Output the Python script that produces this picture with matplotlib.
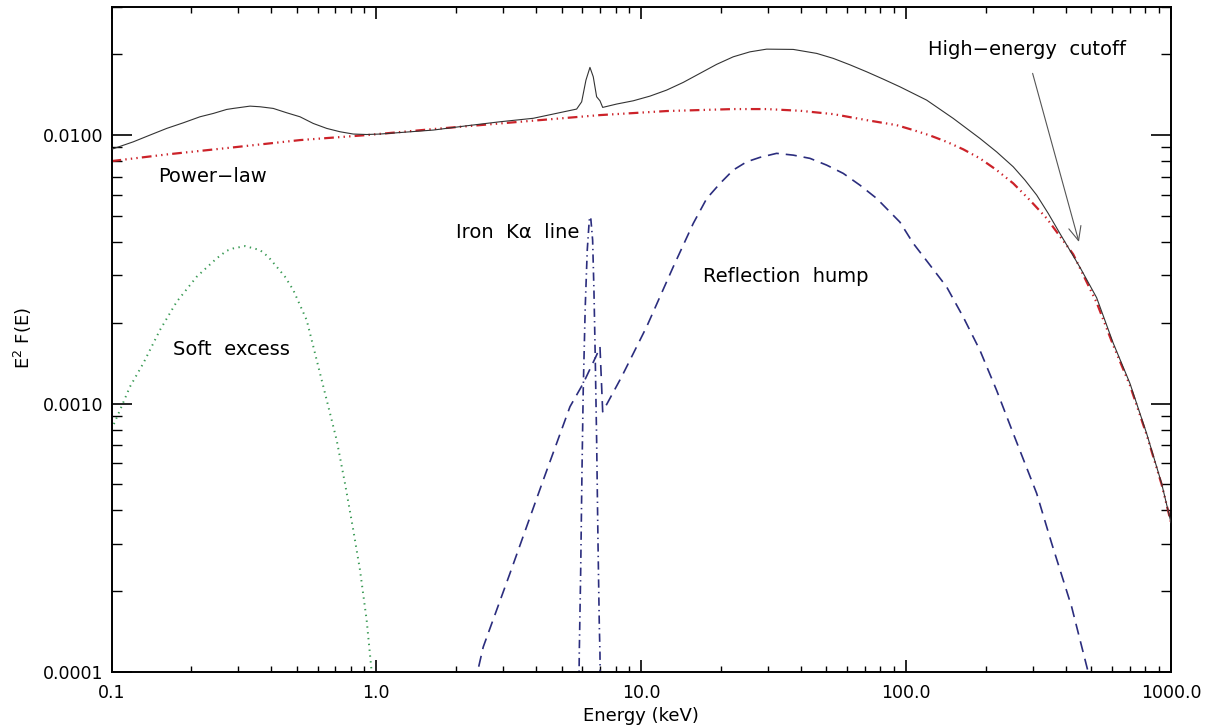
import matplotlib
matplotlib.use("Agg")
import matplotlib.pyplot as plt
from matplotlib.ticker import FixedLocator, FixedFormatter, LogLocator, NullFormatter

# ---------------- data ----------------
total_E = [0.1, 0.1209, 0.1397, 0.1616, 0.1866, 0.2158, 0.2423, 0.2721, 0.2883, 0.3333,
           0.3636, 0.408, 0.4585, 0.5148, 0.5776, 0.6494, 0.729, 0.818, 0.919, 1.032,
           1.640, 2.193, 2.928, 3.911, 5.703, 5.957, 6.183, 6.402, 6.589, 6.785, 6.985,
           7.152, 8.074, 9.328, 10.79, 12.47, 14.40, 16.66, 19.25, 22.25, 25.72, 29.74,
           37.49, 45.95, 53.06, 61.37, 70.95, 81.95, 94.76, 119.5, 150.6, 189.9, 219.6,
           253.7, 280.9, 311.0, 343.9, 380.7, 453.0, 523.8, 605.0, 699.6, 809.0, 921.6,
           1000.0]
total_F = [0.00885, 0.00944, 0.01000, 0.01059, 0.01111, 0.01170, 0.01204, 0.01246, 0.01257,
           0.01282, 0.01275, 0.01257, 0.01211, 0.01170, 0.01105, 0.01059, 0.01029, 0.01009,
           0.01005, 0.01009, 0.01044, 0.01083, 0.01121, 0.01155, 0.01250, 0.01330, 0.01602,
           0.01787, 0.01649, 0.01389, 0.01342, 0.01268, 0.01305, 0.01342, 0.01397, 0.01471,
           0.01571, 0.01698, 0.01834, 0.01957, 0.02042, 0.02090, 0.02085, 0.02015, 0.01931,
           0.01827, 0.01721, 0.01616, 0.01513, 0.01350, 0.01154, 0.00972, 0.00866, 0.00762,
           0.00680, 0.00598, 0.00511, 0.00430, 0.00322, 0.00248, 0.00168, 0.00119, 0.000774,
           0.000504, 0.00036]

powerlaw_E = [0.1, 0.1616, 0.2883, 0.5148, 0.919, 1.640, 2.928, 6.985, 12.47, 22.25, 29.74,
              39.72, 53.06, 70.95, 92.07, 106.4, 123.0, 142.2, 164.3, 189.9, 219.6, 253.7,
              293.4, 339.2, 427.3, 523.8, 605.0, 699.6, 809.0, 921.6, 1000.0]
powerlaw_F = [0.00800, 0.00847, 0.00900, 0.00958, 0.01000, 0.01053, 0.01105, 0.01187, 0.01229,
              0.01250, 0.01250, 0.01232, 0.01197, 0.01137, 0.01089, 0.01044, 0.00997, 0.00944,
              0.00885, 0.00819, 0.00741, 0.00661, 0.00572, 0.00490, 0.00360, 0.00238, 0.00165,
              0.00117, 0.000765, 0.000500, 0.00036]

soft_E = [0.1, 0.1077, 0.1174, 0.1318, 0.1524, 0.1762, 0.2097, 0.2495, 0.2721, 0.2883,
          0.3192, 0.3636, 0.3907, 0.4204, 0.4519, 0.4856, 0.5456, 0.5952, 0.6494, 0.7081,
          0.7612, 0.818, 0.8672, 0.919, 0.960, 0.990]
soft_F = [0.000801, 0.000946, 0.001155, 0.001411, 0.001879, 0.002393, 0.002967, 0.003474,
          0.003708, 0.003784, 0.003860, 0.003730, 0.003521, 0.003232, 0.002967, 0.002646,
          0.002046, 0.001452, 0.001030, 0.000731, 0.000504, 0.000338, 0.000240, 0.000156,
          0.000100, 0.000080]

refl_E = [2.35, 2.532, 3.194, 4.267, 5.381, 6.039, 6.785, 6.985, 7.152, 8.433, 10.48, 13.21,
          15.72, 17.66, 19.82, 22.25, 25.0, 28.06, 32.44, 37.49, 43.35, 50.11, 57.89, 66.9,
          77.38, 94.76, 106.4, 123.0, 142.2, 164.3, 189.9, 219.6, 253.7, 311.0, 354.2, 421.5,
          500.0]
refl_F = [0.000090, 0.000124, 0.000233, 0.000519, 0.000973, 0.001189, 0.001516, 0.001628,
          0.000932, 0.001258, 0.001932, 0.003232, 0.004690, 0.005800, 0.006600, 0.007410,
          0.007950, 0.008260, 0.008550, 0.008420, 0.008190, 0.007730, 0.007200, 0.006510,
          0.005810, 0.004740, 0.003950, 0.003280, 0.002720, 0.002100, 0.001580, 0.001120,
          0.000774, 0.000463, 0.000302, 0.000175, 0.000090]

iron_E = [5.82, 5.834, 5.905, 5.972, 6.039, 6.145, 6.254, 6.364, 6.442, 6.553, 6.628, 6.703,
          6.785, 6.864, 6.942, 6.985, 7.0]
iron_F = [0.000090, 0.000117, 0.000233, 0.000550, 0.001123, 0.00229, 0.00373, 0.00482,
          0.00496, 0.00406, 0.002646, 0.001494, 0.000731, 0.000310, 0.000152, 0.000117, 0.000090]

x_ticks = [0.1, 1.0, 10.0, 100.0, 1000.0]
x_ticklabels = ["0.1", "1.0", "10.0", "100.0", "1000.0"]
y_ticks = [0.0001, 0.001, 0.01]
y_ticklabels = ["0.0001", "0.0010", "0.0100"]

# ---------------- figure ----------------
plt.rcParams['font.family'] = ['DejaVu Sans']
plt.rcParams['lines.scale_dashes'] = False

fig = plt.figure(figsize=(12.12, 7.28), dpi=100)
ax = fig.add_axes([111.5 / 1212, 1 - 672 / 728, (1171 - 111.5) / 1212, (672 - 7) / 728])

ax.plot(total_E, total_F, color='#333333', lw=0.8, zorder=3)
ax.plot(powerlaw_E, powerlaw_F, color='#cc2229', lw=1.6,
        dashes=(7, 3, 1, 3, 1, 3, 1, 3), zorder=2)
ax.plot(soft_E, soft_F, color='#3a9a55', lw=1.4, dashes=(1, 3.2), zorder=2)
ax.plot(refl_E, refl_F, color='#2b2d7e', lw=1.2, dashes=(8, 5), zorder=2)
ax.plot(iron_E, iron_F, color='#2b2d7e', lw=1.2, dashes=(6, 3, 1, 3), zorder=2)

ax.set_xscale('log')
ax.set_yscale('log')
ax.set_xlim(0.1, 1000.0)
ax.set_ylim(0.0001, 0.030)

ax.xaxis.set_major_locator(FixedLocator(x_ticks))
ax.xaxis.set_major_formatter(FixedFormatter(x_ticklabels))
ax.xaxis.set_minor_locator(LogLocator(base=10, subs=range(2, 10)))
ax.xaxis.set_minor_formatter(NullFormatter())
ax.yaxis.set_major_locator(FixedLocator(y_ticks))
ax.yaxis.set_major_formatter(FixedFormatter(y_ticklabels))
ax.yaxis.set_minor_locator(LogLocator(base=10, subs=range(2, 10)))
ax.yaxis.set_minor_formatter(NullFormatter())

for s in ax.spines.values():
    s.set_linewidth(1.4)

ax.tick_params(axis='x', which='major', direction='in', length=8.6, width=1.2,
               top=True, bottom=True, labelsize=12.5, pad=9)
ax.tick_params(axis='x', which='minor', direction='in', length=4.5, width=1.0,
               top=True, bottom=True)
ax.tick_params(axis='y', which='major', direction='in', length=14.5, width=1.2,
               left=True, right=True, labelsize=12.5, pad=6)
ax.tick_params(axis='y', which='minor', direction='in', length=7.2, width=1.0,
               left=True, right=True)

fig.text(641 / 1212, 1 - 716 / 728, 'Energy (keV)', ha='center', va='center', fontsize=13)
fig.text(23 / 1212, 1 - 338 / 728, 'E$^2$ F(E)', ha='center', va='center',
         rotation=90, fontsize=13)

lab_fs = 14
ax.text(0.1498, 0.0070, 'Power\u2212law', ha='left', va='center', fontsize=lab_fs)
ax.text(0.170, 0.00159, 'Soft  excess', ha='left', va='center', fontsize=lab_fs)
ax.text(5.85, 0.00433, 'Iron  K\u03b1  line', ha='right', va='center', fontsize=lab_fs)
ax.text(17.05, 0.00297, 'Reflection  hump', ha='left', va='center', fontsize=lab_fs)
ax.text(121.2, 0.0209, 'High\u2212energy  cutoff', ha='left', va='center', fontsize=lab_fs)

ax.annotate('', xy=(449.1, 0.00400), xytext=(300.3, 0.01698),
            arrowprops=dict(arrowstyle='->,head_length=1.0,head_width=0.45',
                            color='#555555', lw=0.8, shrinkA=0, shrinkB=0))

fig.savefig('out.png', dpi=100)
